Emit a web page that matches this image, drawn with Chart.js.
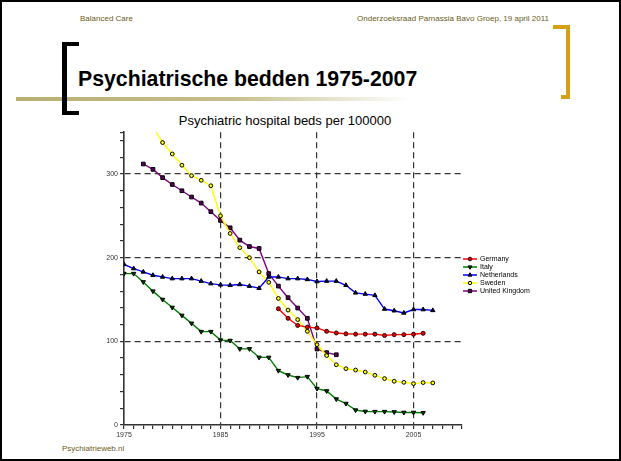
<!DOCTYPE html>
<html><head><meta charset="utf-8">
<script src="https://cdn.jsdelivr.net/npm/chart.js@4/dist/chart.umd.min.js"></script>
<style>
html,body{margin:0;padding:0;background:#fff;}
#slide{position:relative;width:621px;height:461px;overflow:hidden;font-family:Arial,"Liberation Sans",sans-serif;background:#fff;}
#frame{position:absolute;left:0;top:0;width:617px;height:457px;border:2px solid #000;}
.t{position:absolute;white-space:nowrap;line-height:1;}
.b{position:absolute;}
#c{position:absolute;left:84px;top:126px;}
</style></head>
<body>
<div id="slide">
  <div id="frame"></div>
  <div class="t" style="left:80px;top:15px;font-size:8px;color:#6b5b1a;">Balanced Care</div>
  <div class="t" style="right:72px;top:15px;font-size:8px;color:#6b5b1a;">Onderzoeksraad Parnassia Bavo Groep, 19 april 2011</div>
  <div class="b" style="left:553px;top:25px;width:17px;height:4px;background:#d4a017;"></div>
  <div class="b" style="left:566px;top:25px;width:4px;height:74px;background:#d4a017;"></div>
  <div class="b" style="left:561px;top:95px;width:9px;height:4px;background:#d4a017;"></div>
  <div class="b" style="left:16px;top:97px;width:395px;height:4px;background:linear-gradient(to right,#b7af72 0%,#c6bf8c 55%,#ffffff 100%);"></div>
  <div class="b" style="left:62px;top:42px;width:5px;height:73px;background:#000;"></div>
  <div class="b" style="left:62px;top:42px;width:17px;height:4px;background:#000;"></div>
  <div class="b" style="left:62px;top:111px;width:17px;height:4px;background:#000;"></div>
  <div class="t" style="left:78px;top:68px;font-size:22.5px;font-weight:bold;color:#000;transform:scaleX(0.945);transform-origin:0 0;">Psychiatrische bedden 1975-2007</div>
  <div class="t" style="left:135px;top:114px;width:300px;text-align:center;font-size:13px;color:#000;">Psychiatric hospital beds per 100000</div>
  <div class="t" style="left:62px;top:445px;font-size:8px;color:#6b5b1a;">Psychiatrieweb.nl</div>
  <canvas id="c" width="460" height="326"></canvas>
</div>
<script>
const seriesNames = ["Germany", "Italy", "Netherlands", "Sweden", "United Kingdom"];
const germanyYears = [1991,1992,1993,1994,1995,1996,1997,1998,1999,2000,2001,2002,2003,2004,2005,2006];
const germanyValues = [139,127.5,119,117,116,112,110,109,108.6,108.6,108.6,107,108,108,108.5,109.6];
const italyYears = [1975,1976,1977,1978,1979,1980,1981,1982,1983,1984,1985,1986,1987,1988,1989,1990,1991,1992,1993,1994,1995,1996,1997,1998,1999,2000,2001,2002,2003,2004,2005,2006];
const italyValues = [181,181,171,160,150,140.5,131,121.5,111.6,111.6,101.5,101,91,91,80.8,80.8,65,59.8,56.6,57.8,43.5,40.7,31,25.7,17.8,16.2,16,16,15.6,15,15,14.6];
const netherlandsYears = [1975,1976,1977,1978,1979,1980,1981,1982,1983,1984,1985,1986,1987,1988,1989,1990,1991,1992,1993,1994,1995,1996,1997,1998,1999,2000,2001,2002,2003,2004,2005,2006,2007];
const netherlandsValues = [192,187,183,179,177,175,175,175,172,169,167.5,167,168,166,163.5,177,177,175,175,174,171.5,172,172,167,158,156.5,155,138.6,136.6,134,138,138,137];
const swedenYears = [1978,1979,1980,1981,1982,1983,1984,1985,1986,1987,1988,1989,1990,1991,1992,1993,1994,1995,1996,1997,1998,1999,2000,2001,2002,2003,2004,2005,2006,2007];
const swedenValues = [356,337.6,324,310.5,298,292.5,286,250,229,212,200,183,170.5,151.3,137.4,126,112,96,83,72,67.3,65.7,63.3,59.4,55.5,52.3,51,49.5,50.7,50.3];
const ukYears = [1977,1978,1979,1980,1981,1982,1983,1984,1985,1986,1987,1988,1989,1990,1991,1992,1993,1994,1995,1996,1997];
const ukValues = [312,305.6,295.7,287.5,280,272.5,265.3,255,244.5,235.7,221,213.3,211,181,166,152.2,139.8,127.5,90.8,86.5,84];
const xTickLabels = [1975, 1985, 1995, 2005];
const yTickLabels = [0, 100, 200, 300];

function pts(xs, ys){ return xs.map((x,i)=>({x:x,y:ys[i]})); }

const styles = [
  {line:'#ff0000', fill:'#e00000', edge:'#300000', shape:'circle', rot:0, r:2},
  {line:'#008000', fill:'#0a3a0a', edge:'#000000', shape:'triangle', rot:180, r:2.5},
  {line:'#0000ff', fill:'#0a0a40', edge:'#000000', shape:'triangle', rot:0, r:2.5},
  {line:'#ffff00', fill:'#ffff00', edge:'#000000', shape:'circle', rot:0, r:1.9},
  {line:'#800080', fill:'#5a005a', edge:'#000000', shape:'rect', rot:0, r:2.6}
];
const allData = [pts(germanyYears,germanyValues), pts(italyYears,italyValues), pts(netherlandsYears,netherlandsValues), pts(swedenYears,swedenValues), pts(ukYears,ukValues)];

const datasets = seriesNames.map((n,i)=>({
  label:n, data:allData[i], borderColor:styles[i].line, backgroundColor:styles[i].fill,
  pointBorderColor:styles[i].edge, pointBackgroundColor:styles[i].fill, pointBorderWidth:1,
  pointStyle:styles[i].shape, pointRotation:styles[i].rot, pointRadius:styles[i].r,
  borderWidth:1.4, tension:0, fill:false
}));

const legendPlugin = {
  id:'sideLegend',
  afterDatasetsDraw(chart){
    const ctx = chart.ctx;
    const ox = 463-84, oy = 259-126;
    ctx.save();
    ctx.font = '7px Arial, "Liberation Sans", sans-serif';
    ctx.textBaseline = 'middle';
    ctx.fillStyle = '#000';
    chart.data.datasets.forEach((ds,i)=>{
      const y = oy + i*8;
      ctx.strokeStyle = ds.borderColor; ctx.lineWidth = 1.5;
      ctx.beginPath(); ctx.moveTo(ox,y); ctx.lineTo(ox+14,y); ctx.stroke();
      const opts = {pointStyle:ds.pointStyle, rotation:ds.pointRotation, radius:ds.pointRadius*0.9, borderWidth:1};
      ctx.fillStyle = ds.pointBackgroundColor; ctx.strokeStyle = ds.pointBorderColor; ctx.lineWidth = 1;
      if (Chart.helpers && Chart.helpers.drawPoint) Chart.helpers.drawPoint(ctx, opts, ox+7, y);
      ctx.fillStyle = '#000';
      ctx.fillText(ds.label, ox+17, y+0.5);
    });
    ctx.restore();
  }
};

new Chart(document.getElementById('c'), {
  type:'line',
  data:{datasets:datasets},
  plugins:[legendPlugin],
  options:{
    responsive:false, animation:false,
    layout:{padding:{left:0,top:4.3,right:82.25,bottom:0}},
    plugins:{legend:{display:false}, tooltip:{enabled:false}, title:{display:false}},
    scales:{
      x:{type:'linear', min:1975, max:2010,
        afterFit:s=>{s.height=27;},
        ticks:{stepSize:1, autoSkip:false, maxRotation:0, padding:2, color:'#333',
          font:{size:7, family:'Arial, "Liberation Sans", sans-serif'},
          callback:v=> xTickLabels.includes(v) ? String(v) : ''},
        grid:{drawOnChartArea:true, drawTicks:true, tickLength:4, tickColor:'#333', lineWidth:1.2,
          color:c=> (c.tick && xTickLabels.includes(c.tick.value) && c.tick.value>1975) ? '#333' : 'rgba(0,0,0,0)'},
        border:{display:true, color:'#333', width:1.6, dash:[6,4]}
      },
      y:{type:'linear', min:0, max:350,
        afterFit:s=>{s.width=40;},
        ticks:{stepSize:20, autoSkip:false, padding:2, color:'#333',
          font:{size:7, family:'Arial, "Liberation Sans", sans-serif'},
          callback:v=> yTickLabels.includes(v) ? String(v) : ''},
        grid:{drawOnChartArea:true, drawTicks:true, tickLength:4, tickColor:'#333', lineWidth:1.2,
          color:c=> (c.tick && yTickLabels.includes(c.tick.value) && c.tick.value>0) ? '#333' : 'rgba(0,0,0,0)'},
        border:{display:true, color:'#333', width:1.6, dash:[6,4]}
      }
    }
  }
});
</script>
</body></html>
